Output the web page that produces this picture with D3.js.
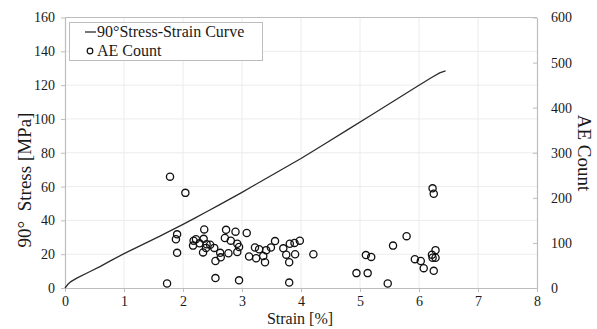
<!DOCTYPE html>
<html>
<head>
<meta charset="utf-8">
<script src="https://cdn.jsdelivr.net/npm/d3@7"></script>
<style>
  html, body { margin: 0; padding: 0; background: #fff; }
  svg text { font-family: "Liberation Serif", "Times New Roman", Times, Tinos, "Noto Serif", "DejaVu Serif", serif; }
</style>
</head>
<body>
<svg id="chart" width="597" height="329"></svg>
<script>
// Stress-strain curve of the 90° specimen: [strain %, stress MPa]
const curveStrain = [0, 0.05, 0.1, 0.2, 0.4, 0.6, 0.8, 1.0, 1.2, 1.4, 1.6, 1.8, 2.0, 2.2, 2.4, 2.6, 2.8, 3.0, 3.2, 3.4, 3.6, 3.8, 4.0, 4.4, 4.8, 5.2, 5.6, 6.0, 6.2, 6.35, 6.45];
const curveStress = [0, 2.2, 3.8, 5.8, 9.3, 12.8, 16.6, 20.3, 23.7, 27.1, 30.5, 34.1, 37.6, 41.3, 45.1, 48.9, 52.7, 56.6, 60.6, 64.6, 68.6, 72.6, 76.6, 85.2, 93.8, 102.5, 111.2, 119.9, 124.2, 127.2, 128.4];

// Acoustic emission events: strain % and count per event
const aeStrain = [1.78, 2.04, 1.90, 1.88, 1.90, 1.73, 2.18, 2.22, 2.36, 2.35, 2.17, 2.28, 2.40, 2.46, 2.39, 2.34, 2.53, 2.63, 2.64, 2.55, 2.55,
  2.73, 2.71, 2.81, 2.77, 2.89, 2.92, 2.95, 2.92, 2.95, 3.08, 3.12, 3.22, 3.29, 3.24, 3.36, 3.41, 3.39, 3.49, 3.56, 3.70, 3.75, 3.80, 3.81,
  3.89, 3.90, 3.98, 3.80, 4.21, 4.94, 5.13, 5.10, 5.19, 5.47, 5.56, 5.79, 5.93, 6.03, 6.08, 6.23, 6.25, 6.28, 6.22, 6.23, 6.28, 6.25];
const aeCount = [247, 211, 119, 108, 78, 10, 105, 108, 130, 109, 94, 99, 97, 96, 89, 79, 89, 78, 68, 60, 22,
  129, 111, 105, 77, 125, 98, 91, 80, 17, 122, 70, 90, 86, 66, 71, 84, 57, 90, 104, 88, 74, 57, 98,
  100, 75, 105, 12, 75, 33, 33, 73, 69, 10, 94, 115, 64, 60, 44, 221, 209, 84, 74, 67, 67, 38];

const strainTicks = [0, 1, 2, 3, 4, 5, 6, 7, 8];
const stressTicks = [0, 20, 40, 60, 80, 100, 120, 140, 160];
const countTicks = [0, 100, 200, 300, 400, 500, 600];

const legendLabels = ["90°Stress-Strain Curve", "AE Count"];

const FONT = '"Liberation Serif", "Times New Roman", Times, Tinos, "Noto Serif", "DejaVu Serif", serif';

const svg = d3.select("#chart");
const m = { left: 65, right: 537, top: 17.5, bottom: 288 };

const x = d3.scaleLinear().domain([0, 8]).range([m.left, m.right]);
const yL = d3.scaleLinear().domain([0, 160]).range([m.bottom, m.top]);
const yR = d3.scaleLinear().domain([0, 600]).range([m.bottom, m.top]);

const gridColor = "#ececec";
const axisColor = "#bdbdbd";
const textColor = "#1a1a1a";

// gridlines
const grid = svg.append("g");
grid.selectAll("line.v").data(strainTicks.slice(1, -1)).join("line")
  .attr("x1", d => x(d)).attr("x2", d => x(d))
  .attr("y1", m.top).attr("y2", m.bottom)
  .attr("stroke", gridColor).attr("stroke-width", 1);
grid.selectAll("line.h").data(stressTicks.slice(1, -1)).join("line")
  .attr("x1", m.left).attr("x2", m.right)
  .attr("y1", d => yL(d)).attr("y2", d => yL(d))
  .attr("stroke", gridColor).attr("stroke-width", 1);

// axes
function styleAxis(g) {
  g.attr("font-family", FONT).attr("font-size", 14);
  g.select(".domain").attr("stroke", axisColor).attr("stroke-width", 1.2);
  g.selectAll(".tick line").attr("stroke", axisColor);
  g.selectAll(".tick text").attr("fill", textColor);
}

svg.append("g").attr("transform", `translate(0,${m.bottom})`)
  .call(d3.axisBottom(x).tickValues(strainTicks).tickFormat(d3.format("d")).tickSize(4).tickSizeOuter(0).tickPadding(4))
  .call(styleAxis);

svg.append("g").attr("transform", `translate(${m.left},0)`)
  .call(d3.axisLeft(yL).tickValues(stressTicks).tickFormat(d3.format("d")).tickSize(4).tickSizeOuter(0).tickPadding(6))
  .call(styleAxis);

svg.append("g").attr("transform", `translate(${m.right},0)`)
  .call(d3.axisRight(yR).tickValues(countTicks).tickFormat(d3.format("d")).tickSize(-4).tickSizeOuter(0).tickPadding(14))
  .call(styleAxis);

// top border of plot area
svg.append("line")
  .attr("x1", m.left).attr("x2", m.right).attr("y1", m.top).attr("y2", m.top)
  .attr("stroke", axisColor).attr("stroke-width", 1.2);

// stress-strain curve
const curve = d3.line().x((d, i) => x(curveStrain[i])).y(d => yL(d));
svg.append("path").datum(curveStress)
  .attr("d", curve)
  .attr("fill", "none").attr("stroke", "#2b2b2b").attr("stroke-width", 1.3);

// AE markers
svg.append("g").selectAll("circle").data(aeCount).join("circle")
  .attr("cx", (d, i) => x(aeStrain[i]))
  .attr("cy", d => yR(d))
  .attr("r", 3.6)
  .attr("fill", "none").attr("stroke", "#111").attr("stroke-width", 1.3);

// axis titles
svg.append("text")
  .attr("x", 300).attr("y", 324).attr("text-anchor", "middle")
  .attr("font-family", FONT).attr("font-size", 16)
  .attr("fill", textColor)
  .text("Strain [%]");

svg.append("text")
  .attr("transform", "translate(31,180) rotate(-90)")
  .attr("text-anchor", "middle")
  .attr("font-family", FONT).attr("font-size", 19)
  .attr("fill", textColor)
  .style("white-space", "pre")
  .text("90°  Stress [MPa]");

svg.append("text")
  .attr("transform", "translate(578,153) rotate(90)")
  .attr("text-anchor", "middle")
  .attr("font-family", FONT).attr("font-size", 19)
  .attr("fill", textColor)
  .text("AE Count");

// legend
const lg = svg.append("g");
lg.append("rect").attr("x", 69.5).attr("y", 22.5).attr("width", 193).attr("height", 38)
  .attr("fill", "#fff").attr("stroke", axisColor).attr("stroke-width", 1);
lg.append("line").attr("x1", 85).attr("x2", 96).attr("y1", 32).attr("y2", 32)
  .attr("stroke", "#2b2b2b").attr("stroke-width", 1.3);
lg.append("circle").attr("cx", 90).attr("cy", 51).attr("r", 2.8)
  .attr("fill", "none").attr("stroke", "#111").attr("stroke-width", 1.2);
lg.selectAll("text").data(legendLabels).join("text")
  .attr("x", 97).attr("y", (d, i) => 37 + i * 19)
  .attr("font-family", FONT).attr("font-size", 16)
  .attr("fill", textColor)
  .text(d => d);
</script>
</body>
</html>
